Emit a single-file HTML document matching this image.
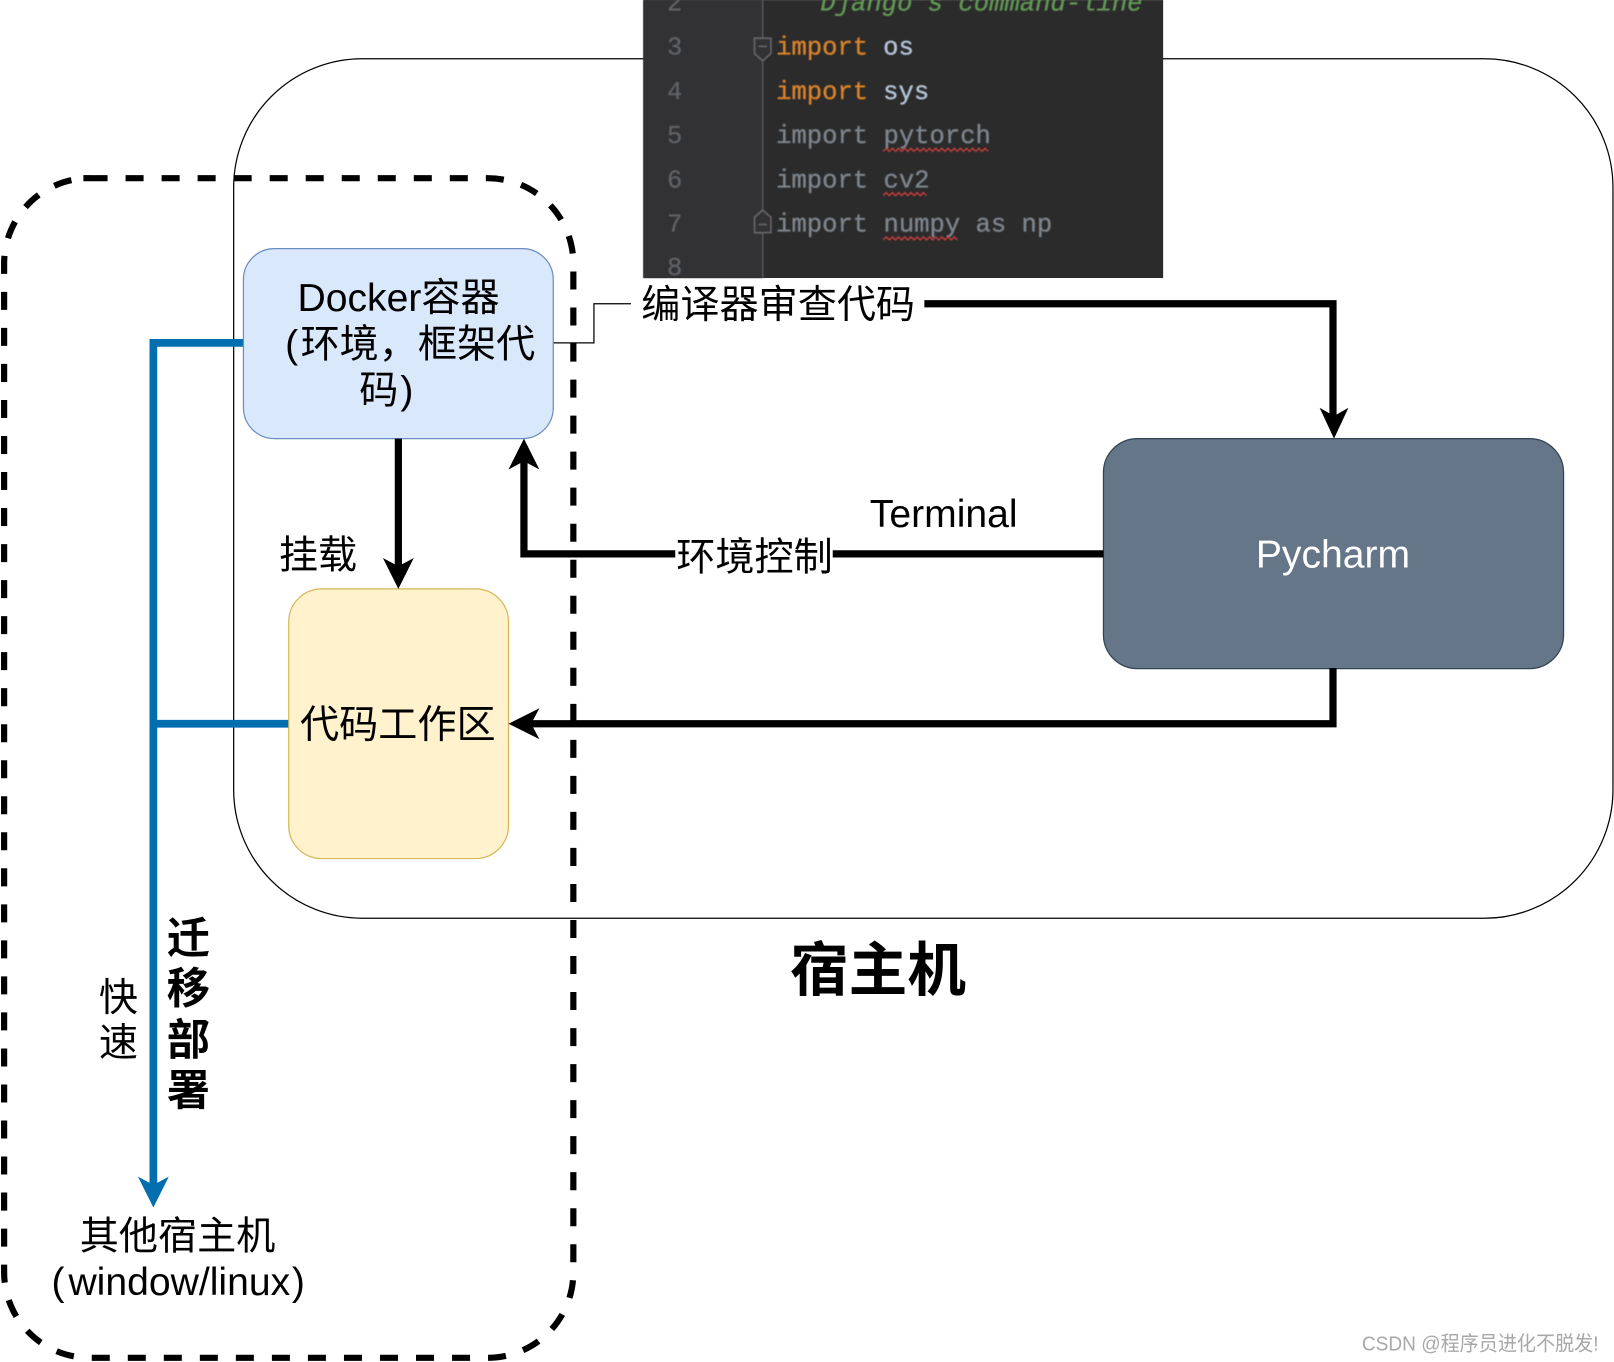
<!DOCTYPE html>
<html><head><meta charset="utf-8"><style>
html,body{margin:0;padding:0;background:#fff;width:1614px;height:1362px;overflow:hidden}
svg{display:block}
text{font-family:"Liberation Sans","Noto Sans CJK SC",sans-serif;fill:#000}
.c text{font-family:"Liberation Mono","DejaVu Sans Mono",monospace;font-size:24.85px;stroke-width:.35px}
</style></head><body>
<svg xmlns="http://www.w3.org/2000/svg" width="1614" height="1362" viewBox="0 0 1568 1323">
<defs><filter id="b" x="-5%" y="-5%" width="110%" height="110%"><feGaussianBlur stdDeviation="0.6"/></filter></defs>
<rect width="1568" height="1323" fill="#fff"/>
<rect x="227" y="57" width="1340" height="835" rx="125" ry="125" fill="#fff" stroke="#000" stroke-width="1.2"/>
<rect x="625" y="0" width="505" height="270" fill="#2b2b2b"/>
<g class="c" filter="url(#b)">
<rect x="625" y="0" width="116" height="270" fill="#313335"/>
<path d="M741 0V270" stroke="#555" stroke-width="1.5"/>
<path d="M733 37h16v15l-8 7-8-7zM733 226h16v-15l-8-7-8 7z" fill="#313335" stroke="#666" stroke-width="1.5"/>
<path d="M737 45h8M737 218h8" stroke="#666" stroke-width="1.5"/>
<text x="648" y="10" style="fill:#606366">2</text>
<text x="648" y="53" style="fill:#606366">3</text>
<text x="648" y="96" style="fill:#606366">4</text>
<text x="648" y="139" style="fill:#606366">5</text>
<text x="648" y="182" style="fill:#606366">6</text>
<text x="648" y="225" style="fill:#606366">7</text>
<text x="648" y="267" style="fill:#606366">8</text>
<text x="797" y="10" style="fill:#629755;stroke:#629755;font-style:italic">Django's command-line</text>
<text x="754" y="53" style="fill:#d9822b;stroke:#d9822b">import</text><text x="858" y="53" style="fill:#b4c4d6;stroke:#b4c4d6">os</text>
<text x="754" y="96" style="fill:#d9822b;stroke:#d9822b">import</text><text x="858" y="96" style="fill:#b4c4d6;stroke:#b4c4d6">sys</text>
<text x="754" y="139" style="fill:#7d848c;stroke:#7d848c">import pytorch</text>
<text x="754" y="182" style="fill:#7d848c;stroke:#7d848c">import cv2</text>
<text x="754" y="225" style="fill:#7d848c;stroke:#7d848c">import numpy as np</text>
<g fill="none" stroke="#c23c3c" stroke-width="1.4">
<path d="M858 147l3-3 3 3 3-3 3 3 3-3 3 3 3-3 3 3 3-3 3 3 3-3 3 3 3-3 3 3 3-3 3 3 3-3 3 3 3-3 3 3 3-3 3 3 3-3 3 3 3-3 3 3 3-3 3 3 3-3 3 3 3-3 3 3 3-3 3 3"/>
<path d="M858 190l3-3 3 3 3-3 3 3 3-3 3 3 3-3 3 3 3-3 3 3 3-3 3 3 3-3 3 3"/>
<path d="M858 233l3-3 3 3 3-3 3 3 3-3 3 3 3-3 3 3 3-3 3 3 3-3 3 3 3-3 3 3 3-3 3 3 3-3 3 3 3-3 3 3 3-3 3 3 3-3 3 3"/>
</g>
</g>
<rect x="4" y="173" width="553" height="1146" rx="83" ry="83" fill="none" stroke="#000" stroke-width="6" stroke-dasharray="17.500 17.500"/>
<path d="M81 173H87" fill="none" stroke="#000" stroke-width="6"/>
<rect x="236.500" y="241.500" width="301" height="184.500" rx="30" ry="30" fill="#dae8fc" stroke="#6c8ebf" stroke-width="1.2"/>
<rect x="280.500" y="572" width="213.500" height="262" rx="32" ry="32" fill="#fff2cc" stroke="#d6b656" stroke-width="1.2"/>
<rect x="1072" y="426" width="447" height="223.500" rx="33" ry="33" fill="#647687" stroke="#314354" stroke-width="1.2"/>
<path d="M538 333H577V295H613" fill="none" stroke="#000" stroke-width="1.2"/>
<path d="M898 295H1295V408" fill="none" stroke="#000" stroke-width="7"/>
<path d="M1296 426l-14-30 14 8 14-8z" fill="#000"/>
<path d="M1072 538H509V444" fill="none" stroke="#000" stroke-width="7"/>
<path d="M509 426l-15 30 15-8 15 8z" fill="#000"/>
<path d="M387 426V554" fill="none" stroke="#000" stroke-width="7"/>
<path d="M387 572l-15-30 15 8 15-8z" fill="#000"/>
<path d="M1295 649V703H512" fill="none" stroke="#000" stroke-width="7"/>
<path d="M494 703l30-15-8 15 8 15z" fill="#000"/>
<path d="M236 333H149V1155M280 703H149" fill="none" stroke="#006eaf" stroke-width="7.500"/>
<path d="M149 1173l-15-30 15 8 15-8z" fill="#006eaf"/>
<rect x="656" y="518" width="153" height="42" fill="#fff"/>
<text x="289" y="302" font-size="38">Docker容器</text>
<text x="277" y="347" font-size="38">(</text><text x="292" y="347" font-size="38">环境，框架代</text>
<text x="349" y="392" font-size="38">码</text><text x="389" y="392" font-size="38">)</text>
<text x="623" y="309" font-size="38">编译器审查代码</text>
<text x="845" y="512" font-size="38">Terminal</text>
<text x="657" y="554" font-size="38">环境控制</text>
<text x="271" y="552" font-size="38">挂载</text>
<text x="291.500" y="717" font-size="38">代码工作区</text>
<text x="1295" y="551" font-size="38" text-anchor="middle" style="fill:#fff">Pycharm</text>
<text x="767.500" y="962" font-size="57" font-weight="bold">宿主机</text>
<text x="162" y="926" font-size="42" font-weight="bold">迁</text>
<text x="162" y="975" font-size="42" font-weight="bold">移</text>
<text x="162" y="1025" font-size="42" font-weight="bold">部</text>
<text x="162" y="1074" font-size="42" font-weight="bold">署</text>
<text x="96" y="982" font-size="38">快</text>
<text x="96" y="1026" font-size="38">速</text>
<text x="77.500" y="1214" font-size="38">其他宿主机</text>
<text x="50" y="1258" font-size="38">(</text><text x="66.500" y="1258" font-size="38">window/linux</text><text x="283.500" y="1258" font-size="38">)</text>
<text x="1323" y="1312" font-size="20" textLength="230" lengthAdjust="spacingAndGlyphs" style="fill:#a8a8a8">CSDN @程序员进化不脱发!</text>
</svg>
</body></html>
